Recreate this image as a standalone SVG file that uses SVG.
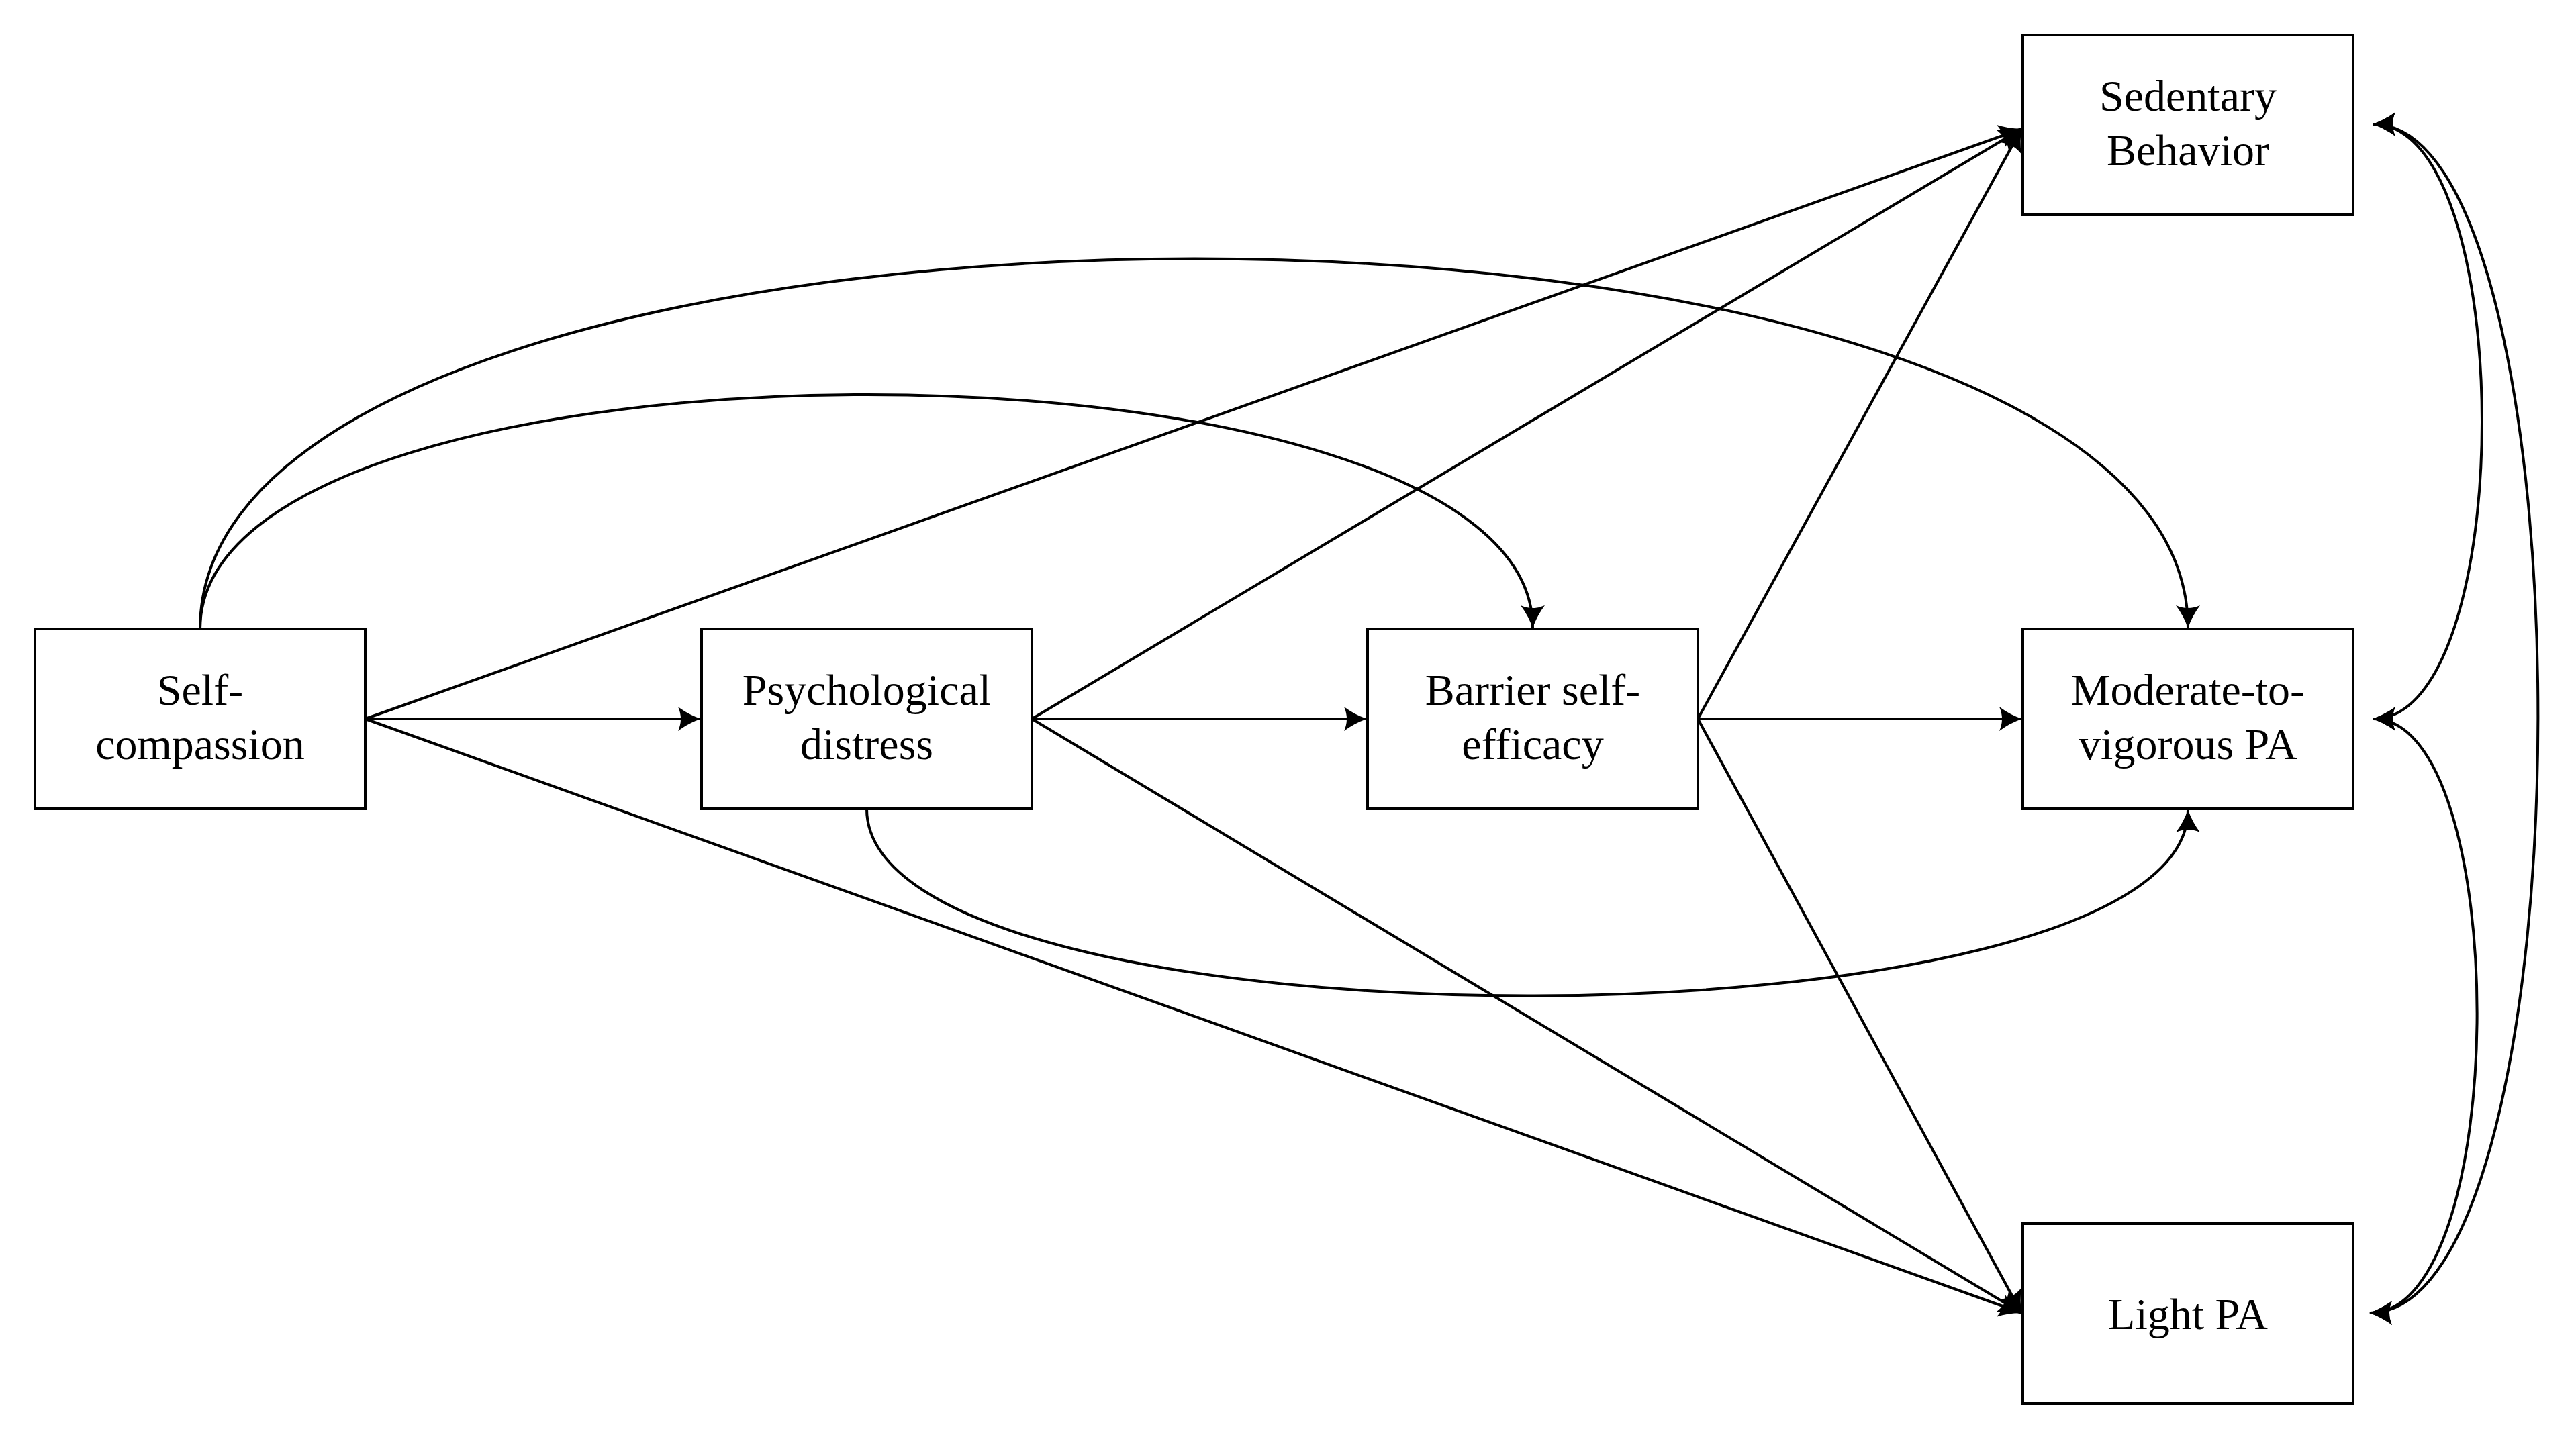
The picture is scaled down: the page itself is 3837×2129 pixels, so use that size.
<svg xmlns="http://www.w3.org/2000/svg" width="3837" height="2129" viewBox="0 0 3837 2129">
<style>
.box{fill:#fff;stroke:#000;stroke-width:4}
.t{font-family:"Liberation Serif","DejaVu Serif",serif;font-size:66px;text-anchor:middle;fill:#000}
.c{fill:none;stroke:#000;stroke-width:4;marker-end:url(#a)}
.d{fill:none;stroke:#000;stroke-width:4;marker-end:url(#a);marker-start:url(#a)}
</style>
<defs>
<marker id="a" viewBox="0 0 12 12" refX="11" refY="6" markerWidth="12" markerHeight="12" markerUnits="userSpaceOnUse" orient="auto-start-reverse" overflow="visible">
<path d="M-22,-12 Q-6,0 12,6 Q-6,12 -22,24 Q-14,6 -22,-12 Z" fill="#000"/>
</marker>
</defs>
<rect width="3837" height="2129" fill="#fff"/>
<g id="connectors">
<path class="c" d="M544,1071 L1043,1071"/>
<path class="c" d="M544,1071 L3011,192"/>
<path class="c" d="M544,1071 L3011,1956"/>
<path class="c" d="M1537,1071 L2035,1071"/>
<path class="c" d="M1537,1071 L3011,192"/>
<path class="c" d="M1537,1071 L3011,1956"/>
<path class="c" d="M2529,1071 L3011,1071"/>
<path class="c" d="M2529,1071 L3011,192"/>
<path class="c" d="M2529,1071 L3011,1956"/>
<path class="c" d="M298,937 C298,202 3259,202 3259,935"/>
<path class="c" d="M298,937 C298,472 2283,472 2283,935"/>
<path class="c" d="M1291,1205 C1291,1576 3259,1576 3259,1207"/>
<path class="d" d="M3535,185 C3751,185 3751,1071 3535,1071"/>
<path class="d" d="M3535,185 C3863,185 3863,1956 3530,1956"/>
<path class="d" d="M3535,1071 C3742,1071 3742,1956 3530,1956"/>
</g>
<g id="self-compassion"><rect class="box" x="52" y="937" width="492" height="268"/><text class="t" x="298" y="1050">Self-</text><text class="t" x="298" y="1131">compassion</text></g>
<g id="psychological-distress"><rect class="box" x="1045" y="937" width="492" height="268"/><text class="t" x="1291" y="1050">Psychological</text><text class="t" x="1291" y="1131">distress</text></g>
<g id="barrier-self-efficacy"><rect class="box" x="2037" y="937" width="492" height="268"/><text class="t" x="2283" y="1050">Barrier self-</text><text class="t" x="2283" y="1131">efficacy</text></g>
<g id="sedentary-behavior"><rect class="box" x="3013" y="52" width="492" height="268"/><text class="t" x="3259" y="165">Sedentary</text><text class="t" x="3259" y="246">Behavior</text></g>
<g id="mvpa"><rect class="box" x="3013" y="937" width="492" height="268"/><text class="t" x="3259" y="1050">Moderate-to-</text><text class="t" x="3259" y="1131">vigorous PA</text></g>
<g id="light-pa"><rect class="box" x="3013" y="1823" width="492" height="268"/><text class="t" x="3259" y="1980">Light PA</text></g>
</svg>
